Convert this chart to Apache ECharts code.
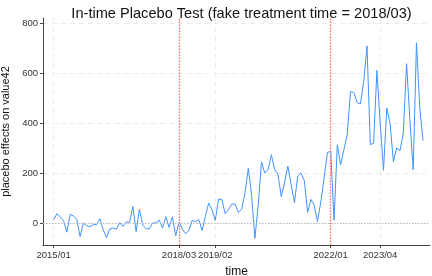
<!DOCTYPE html>
<html>
<head>
<meta charset="utf-8">
<script src="https://cdn.jsdelivr.net/npm/echarts@6/dist/echarts.min.js"></script>
<style>html,body{margin:0;padding:0;background:#fff}#c{width:432px;height:276px}</style>
</head>
<body>
<div id="c"></div>
<script>
const startYear = 2015;
const placeboEffects = [
  16, 40, 27, 12, -34, 38, 30, 18, -52, 2,
  -8, -12, -4, -4, 20, -24, -56, -21, -17, -22,
  4, -11, 8, 5, 69, -32, 57, -6, -20, -21,
  3, 3, 14, -17, 28, -15, 27, -48, 6, -21,
  -40, -27, 13, 8, 16, -27, 29, 82, 56, 13,
  98, 96, 40, 56, 78, 78, 45, 58, 122, 220,
  115, -58, 69, 247, 202, 215, 275, 215, 197, 108,
  162, 230, 155, 84, 190, 202, 171, 45, 97, 73,
  8, 88, 182, 284, 288, 14, 315, 235, 295, 355,
  527, 523, 483, 477, 567, 709, 315, 321, 611, 401,
  213, 461, 401, 246, 302, 291, 361, 638, 414, 215,
  721, 461, 331
];
const tickLabels = ['2015/01', '2018/03', '2019/02', '2022/01', '2023/04'];
const treatmentTimes = ['2018/03', '2022/01'];
const yTicks = [0, 200, 400, 600, 800];

const months = placeboEffects.map((_, i) => {
  const y = startYear + Math.floor(i / 12);
  const m = (i % 12) + 1;
  return y + '/' + (m < 10 ? '0' + m : m);
});
const idxOf = s => months.indexOf(s);
const seriesData = placeboEffects.map((v, i) => [i, v]);
const tickPos = tickLabels.map(idxOf);

const font = 'Liberation Sans, Arial, Helvetica, sans-serif';
const chart = echarts.init(document.getElementById('c'), null, {renderer: 'canvas'});
chart.setOption({
  animation: false,
  title: {
    text: 'In-time Placebo Test (fake treatment time = 2018/03)',
    left: 236.5, textAlign: 'center', top: 1,
    textStyle: {fontSize: 14.6, fontWeight: 'normal', color: '#111', fontFamily: font}
  },
  grid: {left: 43, right: 2, top: 18, bottom: 31, containLabel: false, outerBoundsMode: 'none'},
  xAxis: {
    type: 'value', min: -3.24, max: 114.1,
    name: 'time', nameLocation: 'middle', nameGap: 21,
    nameTextStyle: {fontSize: 12, color: '#111', fontFamily: font},
    axisLine: {show: true, onZero: false, lineStyle: {color: '#444', width: 1}},
    axisTick: {show: true, length: 3, customValues: tickPos, lineStyle: {color: '#444'}},
    axisLabel: {
      customValues: tickPos, fontSize: 9.5, color: '#333', margin: 5, fontFamily: font,
      formatter: v => months[Math.round(v)] || ''
    },
    splitLine: {show: true, lineStyle: {color: '#ececec', type: [5, 4], width: 1}}
  },
  yAxis: {
    type: 'value', min: -85, max: 820,
    name: 'placebo effects on value42', nameLocation: 'middle', nameGap: 30,
    nameTextStyle: {fontSize: 11, color: '#111', fontFamily: font},
    axisLine: {show: true, onZero: false, lineStyle: {color: '#444', width: 1}},
    axisTick: {show: true, length: 3, customValues: yTicks, lineStyle: {color: '#444'}},
    axisLabel: {customValues: yTicks, fontSize: 9.5, color: '#333', margin: 5, fontFamily: font},
    splitLine: {show: true, lineStyle: {color: '#ececec', type: [5, 4], width: 1}}
  },
  series: [{
    type: 'line',
    data: seriesData,
    showSymbol: false,
    lineStyle: {color: '#3f93ff', width: 1},
    itemStyle: {color: '#3f93ff'},
    z: 3,
    markLine: {
      silent: true, symbol: 'none', label: {show: false},
      data: [
        ...treatmentTimes.map(t => ({xAxis: idxOf(t), lineStyle: {color: '#ff6b6b', type: [1.5, 1.5], width: 1.3}})),
        {yAxis: 0, lineStyle: {color: '#bbbbbb', type: [1.5, 1.5], width: 1}}
      ]
    }
  }]
});
</script>
</body>
</html>
